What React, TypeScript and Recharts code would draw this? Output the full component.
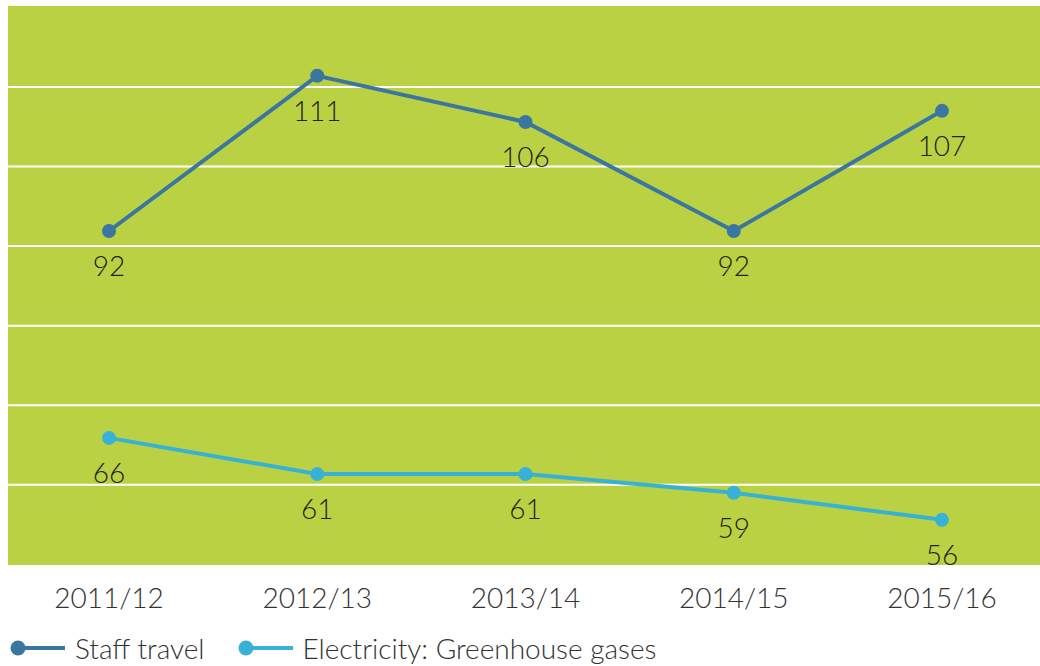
import React from 'react';
import { LineChart, Line, XAxis, YAxis, CartesianGrid, Legend, LabelList } from 'recharts';

const categories = ['2011/12', '2012/13', '2013/14', '2014/15', '2015/16'];
const staffTravel = [91.9, 111.4, 105.6, 91.9, 107.0];
const electricity = [65.9, 61.35, 61.35, 59.0, 55.6];
const yTicks = [60, 70, 80, 90, 100, 110];
const yDomain = [49.8, 120.3];
const seriesNames = ['Staff travel', 'Electricity: Greenhouse gases'];

const STAFF = '#3b76a0';
const ELEC = '#38b1d6';
const FONT = 'Lato, "Open Sans", sans-serif';

const data = categories.map((c, i) => ({ year: c, staff: staffTravel[i], elec: electricity[i] }));

const renderLegend = (props: any) => {
  const payload = [...(props.payload || [])].sort(
    (a: any, b: any) => seriesNames.indexOf(a.value) - seriesNames.indexOf(b.value)
  );
  return (
    <div style={{ display: 'flex', alignItems: 'center', fontFamily: FONT, fontWeight: 300, fontSize: 28, color: '#333', height: 36, marginTop: 14 }}>
      {payload.map((p: any, i: number) => (
        <div key={i} style={{ display: 'flex', alignItems: 'center', marginRight: 31 }}>
          <svg width={58} height={20} style={{ marginRight: 9, display: 'block' }}>
            <line x1={10} y1={10} x2={57} y2={10} stroke={p.color} strokeWidth={4} />
            <circle cx={10} cy={10} r={7.5} fill={p.color} />
          </svg>
          <span>{p.value}</span>
        </div>
      ))}
    </div>
  );
};

const labelStyle = { fontFamily: FONT, fontWeight: 300, fontSize: 28, fill: '#222' };
const fmt = (v: any) => Math.round(Number(v));

export default function App() {
  return (
    <div style={{ position: 'absolute', left: 8, top: 5 }}>
      <LineChart width={1032} height={661} data={data} margin={{ top: 0, right: 0, bottom: 0, left: 0 }}>
        <CartesianGrid horizontal vertical={false} fill="#bbd144" stroke="#ffffff" strokeWidth={2} />
        <XAxis
          dataKey="year"
          axisLine={false}
          tickLine={false}
          height={50}
          padding={{ left: 101, right: 98 }}
          tick={{ fontFamily: FONT, fontWeight: 300, fontSize: 28, fill: '#333' }}
          tickMargin={16}
        />
        <YAxis hide domain={yDomain} ticks={yTicks} />
        <Legend verticalAlign="bottom" align="left" content={renderLegend} wrapperStyle={{ height: 50 }} />
        <Line
          type="linear"
          dataKey="staff"
          name={seriesNames[0]}
          stroke={STAFF}
          strokeWidth={4}
          dot={{ r: 7, fill: STAFF, stroke: STAFF, strokeWidth: 0 }}
          isAnimationActive={false}
        >
          <LabelList dataKey="staff" position="bottom" offset={25} formatter={fmt} style={labelStyle} />
        </Line>
        <Line
          type="linear"
          dataKey="elec"
          name={seriesNames[1]}
          stroke={ELEC}
          strokeWidth={4}
          dot={{ r: 7, fill: ELEC, stroke: ELEC, strokeWidth: 0 }}
          isAnimationActive={false}
        >
          <LabelList dataKey="elec" position="bottom" offset={25} formatter={fmt} style={labelStyle} />
        </Line>
      </LineChart>
    </div>
  );
}
